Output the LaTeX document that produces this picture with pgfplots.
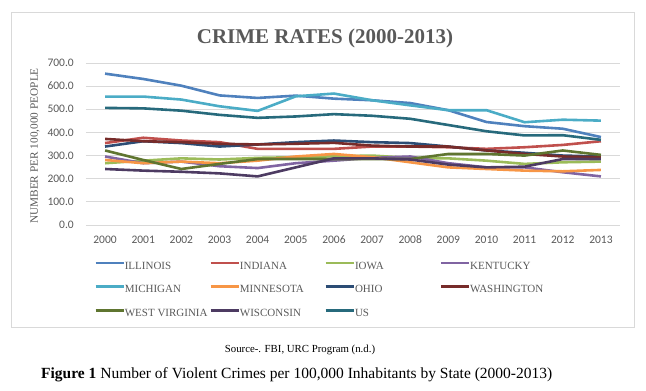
\documentclass[border=0pt]{standalone}
\usepackage{pgfplots}
\pgfplotsset{compat=1.18}
\usepackage{pgfplotstable}
\usepackage{fontspec}
\setmainfont{Liberation Serif}
\newfontfamily\calibri{Carlito}
\definecolor{cIL}{HTML}{4F81BD}
\definecolor{cIN}{HTML}{C0504D}
\definecolor{cIA}{HTML}{9BBB59}
\definecolor{cKY}{HTML}{8064A2}
\definecolor{cMI}{HTML}{4BACC6}
\definecolor{cMN}{HTML}{F79646}
\definecolor{cOH}{HTML}{2C4D75}
\definecolor{cWA}{HTML}{772C2A}
\definecolor{cWV}{HTML}{5F7530}
\definecolor{cWI}{HTML}{4D3B62}
\definecolor{cUS}{HTML}{276A7C}
\definecolor{gridc}{HTML}{D9D9D9}
\definecolor{txt}{HTML}{595959}
\pgfplotstableread{
x IL  IN  IA  KY  MI  MN  OH  WA  WV  WI  US
0  654 354 267 296 555 281 339 372 322 242 506
1  631 377 278 267 555 267 362 362 281 235 504
2  602 365 288 274 542 274 354 358 242 230 494
3  560 358 283 254 513 267 339 351 264 223 476
4  549 329 290 246 493 278 348 348 285 210 463
5  559 329 293 267 556 296 358 351 285 249 469
6  546 329 297 278 568 307 365 355 285 288 479
7  539 339 300 290 539 293 358 343 285 288 472
8  527 339 290 296 517 271 354 339 285 283 459
9  496 336 288 267 496 249 339 339 307 261 432
10 445 329 278 249 496 242 322 322 307 249 405
11 427 336 264 249 444 235 312 307 300 252 387
12 416 346 271 228 455 232 300 296 322 285 388
13 380 362 274 210 451 238 296 293 303 285 368
}\crime
\newcommand\legtxt[1]{\makebox[84.5pt][l]{#1}}
\begin{document}
\begin{tikzpicture}
\path[use as bounding box] (0pt,0pt) rectangle (646pt,391pt);
\draw[gridc, line width=0.8pt] (11pt,64pt) rectangle (634pt,379pt);
\node[font=\bfseries\fontsize{21}{24}\selectfont, text=txt] at (325pt,353pt) {CRIME RATES (2000-2013)};
\node[rotate=90, font=\fontsize{11.3}{13}\selectfont, text=txt] at (35pt,245pt) {NUMBER PER 100,000 PEOPLE};
\node[font=\fontsize{10.8}{12}\selectfont] at (300pt,41pt) {Source-. FBI, URC Program (n.d.)};
\node[font=\fontsize{15.5}{18}\selectfont, anchor=west, inner sep=0pt] at (41pt,16pt) {\textbf{Figure 1} Number of Violent Crimes per 100,000 Inhabitants by State (2000-2013)};
\begin{axis}[
  at={(86pt,166pt)}, anchor=south west,
  width=534pt, height=162pt, scale only axis,
  xmin=-0.5, xmax=13.5, ymin=0, ymax=700,
  xtick={0,...,13},
  xticklabels={2000,2001,2002,2003,2004,2005,2006,2007,2008,2009,2010,2011,2012,2013},
  ytick={0,100,...,700},
  yticklabel={\pgfmathprintnumber[fixed,fixed zerofill,precision=1]{\tick}},
  /pgf/number format/assume math mode=true,
  ymajorgrids, grid style={gridc, line width=0.8pt},
  axis line style={draw=none},
  major tick length=0pt,
  tick label style={font=\calibri\fontsize{11.5}{13}\selectfont, text=txt},
  y tick label style={inner sep=0pt, anchor=east, xshift=-12pt},
  x tick label style={inner sep=0pt, anchor=north, yshift=-11pt, text height=7.5pt, text depth=0pt},
  clip=false,
  every axis plot/.append style={line width=2.6pt, no markers},
  legend columns=4,
  legend style={at={(axis description cs:0.0150,-0.222)}, anchor=north west,
    draw=none, fill=none, inner sep=0pt, row sep=12.6pt, column sep=0pt,
    font=\fontsize{11}{13}\selectfont, text=txt,
    nodes={inner sep=0pt, text height=8pt, text depth=3pt}},
  legend cell align=left,
  legend image code/.code={\draw[#1, line width=2.6pt] (0pt,3.6pt) -- (28pt,3.6pt);},
]
\addplot[cIL] table[x=x,y=IL]{\crime}; \addlegendentry{\legtxt{ILLINOIS}}
\addplot[cIN] table[x=x,y=IN]{\crime}; \addlegendentry{\legtxt{INDIANA}}
\addplot[cIA] table[x=x,y=IA]{\crime}; \addlegendentry{\legtxt{IOWA}}
\addplot[cKY] table[x=x,y=KY]{\crime}; \addlegendentry{\legtxt{KENTUCKY}}
\addplot[cMI] table[x=x,y=MI]{\crime}; \addlegendentry{\legtxt{MICHIGAN}}
\addplot[cMN] table[x=x,y=MN]{\crime}; \addlegendentry{\legtxt{MINNESOTA}}
\addplot[cOH] table[x=x,y=OH]{\crime}; \addlegendentry{\legtxt{OHIO}}
\addplot[cWA] table[x=x,y=WA]{\crime}; \addlegendentry{\legtxt{WASHINGTON}}
\addplot[cWV] table[x=x,y=WV]{\crime}; \addlegendentry{\legtxt{WEST VIRGINIA}}
\addplot[cWI] table[x=x,y=WI]{\crime}; \addlegendentry{\legtxt{WISCONSIN}}
\addplot[cUS] table[x=x,y=US]{\crime}; \addlegendentry{\legtxt{US}}
\end{axis}
\end{tikzpicture}
\end{document}
